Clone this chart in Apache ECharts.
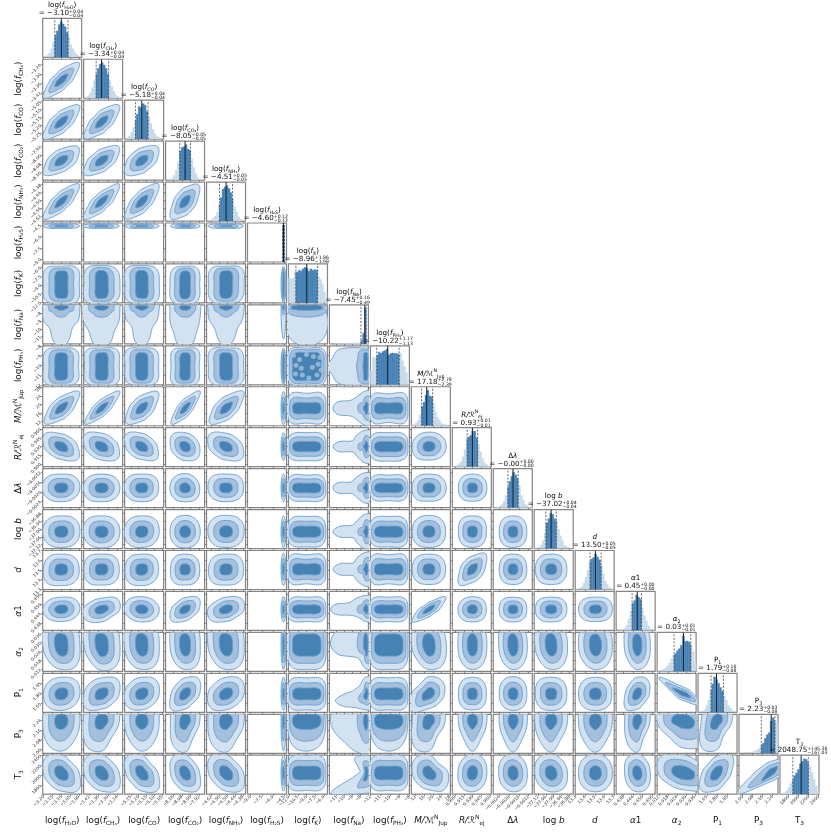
<!DOCTYPE html>
<html>
<head>
<meta charset="utf-8">
<style>
    html, body {margin: 0; padding: 0; background: #fff;}
    #chart {width: 831px; height: 837px;}
</style>
</head>
<body>
<div id="chart"></div>
<script src="https://cdn.jsdelivr.net/npm/echarts@6/dist/echarts.min.js"></script>
<script>
// axis label of each parameter, rich text tokens
const paramLabels = [
    '{n|log(}{i|f}{b|H₂O}{n|)}', '{n|log(}{i|f}{b|CH₄}{n|)}', '{n|log(}{i|f}{b|CO}{n|)}', '{n|log(}{i|f}{b|CO₂}{n|)}',
    '{n|log(}{i|f}{b|NH₃}{n|)}', '{n|log(}{i|f}{b|H₂S}{n|)}', '{n|log(}{i|f}{b|K}{n|)}', '{n|log(}{i|f}{b|Na}{n|)}',
    '{n|log(}{i|f}{b|PH₃}{n|)}', '{i|M/ℳ}{p|N}{b|Jup}', '{i|R/ℛ}{p|N}{b|ej}', '{n|Δ}{i|λ}', '{n|log }{i|b}', '{i|d}',
    '{i|α}{n|1}', '{i|α}{b|2}', '{n|P}{b|1}', '{n|P}{b|3}', '{n|T}{b|3}'
]
// numbers printed above each histogram
const titleValues = ['−3.10', '−3.34', '−5.18', '−8.05', '−4.51', '−4.60', '−8.96', '−7.45', '−10.22', '17.18', '0.93', '−0.00', '−37.02', '13.50', '0.45', '0.03', '1.79', '2.23', '2048.75']
const titleUpper = ['+0.04', '+0.04', '+0.04', '+0.05', '+0.05', '+0.12', '+1.86', '+0.16', '+1.17', '+2.78', '+0.01', '+0.00', '+0.04', '+0.05', '+0.00', '+0.01', '+0.10', '+0.03', '+145.36']
const titleLower = ['−0.04', '−0.04', '−0.04', '−0.05', '−0.05', '−0.12', '−1.98', '−0.49', '−1.13', '−2.39', '−0.01', '−0.00', '−0.04', '−0.05', '−0.00', '−0.01', '−0.08', '−0.08', '−167.03']

// axis ranges
const axisMin = [-3.205, -3.455, -5.29, -8.23, -4.66, -9.4, -12.1, -11.9, -12, 10, 0.895, -0.00265, -37.15, 13.295, 0.4335, 0.0107, 1.52, 1.97, 1625]
const axisMax = [-2.985, -3.205, -5.04, -7.87, -4.36, -4.2, -5.4, -7.0, -8, 28.2, 0.962, -0.00105, -36.85, 13.70, 0.4577, 0.0369, 2.09, 2.285, 2405]
// tick labels
const tickValues = [
    [-3.20, -3.15, -3.10, -3.05, -3.00], [-3.42, -3.36, -3.30, -3.24], [-5.25, -5.20, -5.15, -5.10, -5.05], [-8.16, -8.08, -8.00, -7.92],
    [-4.62, -4.56, -4.50, -4.44, -4.38], [-9.0, -7.5, -6.0, -4.5], [-12.0, -10.5, -9.0, -7.5, -6.0], [-11, -10, -9, -8],
    [-12, -11, -10, -9, -8], [12, 16, 20, 24, 28], [0.900, 0.915, 0.930, 0.945, 0.960], [-0.0024, -0.0020, -0.0016, -0.0012],
    [-37.12, -37.06, -37.00, -36.94, -36.88], [13.3, 13.4, 13.5, 13.6, 13.7], [0.438, 0.444, 0.450, 0.456], [0.012, 0.018, 0.024, 0.030, 0.036],
    [1.65, 1.80, 1.95], [2.00, 2.08, 2.16, 2.24], [1800, 2000, 2200, 2400]
]
const tickDecimals = [2, 2, 2, 2, 2, 1, 1, 0, 0, 0, 3, 4, 2, 1, 3, 3, 2, 2, 0]

// 16% / 50% / 84% lines of each histogram
const quantileLow = [-3.137, -3.375, -5.22, -8.10, -4.56, -4.72, -10.82, -7.94, -11.35, 14.79, 0.9205, -0.00205, -37.06, 13.45, 0.4434, 0.0221, 1.71, 2.15, 1881.7]
const quantileMid = [-3.10, -3.34, -5.18, -8.05, -4.51, -4.60, -8.96, -7.45, -10.22, 17.18, 0.9295, -0.00184, -37.02, 13.505, 0.4466, 0.0284, 1.79, 2.23, 2048.75]
const quantileHigh = [-3.062, -3.295, -5.14, -8.00, -4.46, -4.48, -7.10, -7.29, -9.05, 19.96, 0.9385, -0.00163, -36.98, 13.565, 0.4492, 0.0333, 1.89, 2.26, 2192]

// histogram heights, 20 bins over the axis range, tallest = 100
const histH2O = [1, 2, 6, 12, 24, 42, 62, 74, 92, 100, 94, 86, 70, 58, 36, 24, 14, 8, 3, 1]
const histCH4 = [1, 3, 8, 16, 30, 50, 68, 84, 96, 100, 94, 84, 68, 50, 34, 20, 10, 5, 2, 1]
const histCO = [1, 4, 9, 18, 34, 52, 70, 92, 88, 100, 96, 78, 62, 44, 28, 16, 9, 4, 2, 1]
const histCO2 = [0, 1, 3, 6, 14, 28, 50, 82, 92, 94, 100, 88, 84, 60, 36, 18, 8, 3, 1, 0]
const histNH3 = [0, 1, 3, 8, 14, 24, 46, 66, 90, 96, 100, 92, 80, 62, 40, 26, 12, 6, 2, 1]
const histH2S = [0, 0, 0, 0, 0, 0, 0, 0, 0, 0, 0, 0, 0, 0, 0, 0, 0, 3, 100, 4]
const histK = [70, 68, 70, 88, 86, 92, 90, 96, 100, 98, 90, 96, 92, 94, 92, 74, 66, 52, 30, 8]
const histNa = [0, 0, 0, 0, 1, 1, 1, 1, 1, 1, 2, 2, 2, 2, 3, 3, 10, 30, 100, 12]
const histPH3 = [40, 78, 76, 82, 92, 88, 94, 96, 100, 84, 88, 90, 88, 88, 86, 90, 68, 52, 34, 8]
const histM = [1, 4, 8, 14, 30, 54, 66, 86, 100, 84, 82, 62, 38, 24, 16, 8, 5, 3, 1, 0]
const histR = [0, 1, 3, 8, 14, 28, 48, 78, 84, 88, 100, 100, 82, 62, 42, 24, 12, 6, 2, 0]
const histDl = [0, 1, 2, 4, 8, 18, 34, 58, 74, 88, 100, 92, 82, 62, 34, 20, 10, 6, 2, 1]
const histB = [1, 2, 4, 10, 22, 44, 72, 84, 100, 96, 84, 78, 54, 36, 22, 10, 6, 3, 1, 0]
const histD = [1, 2, 4, 8, 18, 34, 54, 78, 86, 90, 100, 92, 84, 66, 44, 24, 14, 6, 2, 1]
const histA1 = [0, 0, 1, 3, 6, 14, 32, 54, 76, 84, 100, 94, 88, 64, 42, 28, 14, 6, 3, 1]
const histA2 = [1, 2, 4, 6, 10, 16, 24, 36, 46, 50, 58, 64, 74, 100, 84, 86, 82, 74, 56, 30]
const histP1 = [1, 2, 4, 8, 20, 34, 62, 80, 100, 92, 82, 70, 60, 46, 34, 20, 12, 6, 2, 1]
const histP3 = [0, 1, 1, 1, 2, 2, 3, 5, 8, 10, 14, 22, 28, 42, 52, 58, 90, 100, 92, 88]
const histT3 = [1, 2, 5, 10, 18, 30, 40, 52, 60, 70, 86, 92, 100, 98, 90, 78, 62, 42, 24, 8]
const histograms = [histH2O, histCH4, histCO, histCO2, histNH3, histH2S, histK, histNa, histPH3, histM, histR, histDl, histB, histD, histA1, histA2, histP1, histP3, histT3]

// contour centre and contour unit of each parameter, in data units
const contourCentre = [-3.10, -3.34, -5.18, -8.05, -4.51, -4.60, -8.96, -7.34, -10.12, 18.2, 0.9295, -0.00184, -37.02, 13.505, 0.4466, 0.0284, 1.79, 2.225, 2050]
const contourUnit = [0.0375, 0.042, 0.04, 0.05, 0.05, 0.12, 1.17, 1.47, 0.70, 2.9, 0.0089, 0.00021, 0.045, 0.063, 0.0029, 0.0061, 0.09, 0.088, 135]
// how far the dark and the middle contour reach, compared with the outer one
const innerReach = [0.36, 0.36, 0.36, 0.36, 0.36, 0.36, 0.75, 0.07, 0.75, 0.36, 0.36, 0.36, 0.36, 0.36, 0.36, 0.45, 0.36, 0.26, 0.38]
const middleReach = [0.68, 0.68, 0.68, 0.68, 0.68, 0.68, 0.9, 0.24, 0.9, 0.68, 0.68, 0.68, 0.68, 0.68, 0.68, 0.74, 0.68, 0.66, 0.7]

// outer contour: distance from the centre in tenths of a unit,
// counter-clockwise from E in equal steps (8 or 16 of them). One list per row, one entry per column.
const STRIP = [27, 27, 27, 27, 27, 27, 27, 27]
const radiiCH4 = [[17, 38, 17, 12, 17, 38, 17, 12]]
const radiiCO = [[19, 38, 19, 14, 19, 38, 19, 14], [19, 38, 20, 14, 19, 37, 19, 14]]
const radiiCO2 = [[23, 36, 22, 18, 22, 37, 22, 18], [22, 37, 22, 17, 22, 37, 22, 17], [24, 36, 24, 20, 24, 36, 24, 19]]
const radiiNH3 = [[17, 38, 17, 12, 17, 38, 17, 12], [17, 38, 16, 12, 17, 38, 17, 12], [19, 38, 19, 14, 19, 37, 19, 14], [22, 36, 22, 18, 22, 37, 22, 18]]
const radiiH2S = [[28, 30, 26, 30, 28, 30, 26, 30], [27, 30, 26, 30, 29, 30, 26, 30], [28, 30, 26, 30, 27, 30, 26, 30], [28, 29, 26, 30, 27, 29, 26, 30], [27, 30, 26, 30, 28, 30, 26, 30]]
const radiiK = [[27, 34, 27, 33, 27, 33, 27, 34], [28, 32, 28, 33, 27, 34, 27, 33], [28, 33, 28, 34, 27, 33, 27, 34], [27, 33, 27, 32, 28, 34, 28, 33], [28, 34, 27, 33, 27, 33, 27, 32], STRIP]
const radiiNa = [
    [28, 32, 30, 28, 28, 28, 30, 32, 28, 29, 25, 31, 34, 30, 24, 28],
    [28, 32, 30, 28, 28, 28, 30, 32, 29, 30, 28, 33, 34, 33, 28, 29],
    [28, 32, 30, 28, 28, 28, 30, 32, 28, 27, 23, 30, 34, 30, 24, 27],
    [29, 32, 30, 28, 28, 28, 30, 32, 28, 30, 30, 34, 34, 34, 30, 29],
    [28, 32, 30, 28, 28, 28, 30, 32, 28, 28, 25, 30, 34, 30, 25, 27],
    STRIP,
    [28, 34, 36, 34, 30, 34, 36, 34, 28, 34, 36, 34, 34, 34, 36, 34]
]
const radiiPH3 = [[26, 33, 27, 33, 27, 34, 27, 33], [27, 34, 27, 33, 26, 33, 27, 34], [27, 33, 27, 34, 27, 33, 27, 33], [26, 34, 27, 33, 26, 34, 27, 33], [27, 33, 27, 34, 27, 33, 27, 34], STRIP, [28, 35, 27, 35, 28, 35, 27, 35],
    [28, 30, 34, 30, 27, 30, 34, 31, 33, 31, 34, 30, 27, 30, 34, 30]]
const radiiM = [[19, 38, 19, 15, 19, 35, 19, 15], [15, 39, 15, 11, 15, 36, 15, 11], [21, 37, 21, 17, 21, 35, 21, 17], [16, 39, 16, 12, 16, 36, 16, 12], [20, 38, 20, 16, 20, 35, 20, 16], STRIP, [28, 33, 24, 33, 28, 33, 24, 33],
    [28, 32, 32, 30, 28, 20, 18, 26, 28, 26, 18, 20, 28, 30, 32, 32], [28, 33, 23, 32, 28, 33, 23, 33]]
const radiiR = [[25, 22, 25, 35, 26, 22, 25, 35], [26, 23, 26, 35, 26, 23, 26, 34], [25, 22, 26, 35, 26, 23, 25, 34], [27, 25, 27, 33, 27, 25, 27, 32], [26, 23, 26, 35, 27, 23, 26, 34], STRIP, [28, 33, 27, 33, 28, 33, 27, 33],
    [28, 30, 30, 30, 32, 22, 16, 25, 28, 25, 15, 20, 32, 30, 30, 30], [28, 33, 27, 33, 28, 33, 28, 33], [28, 29, 28, 28, 27, 29, 26, 28]]
const radiiDl = [[28, 30, 27, 30, 29, 29, 27, 28], [28, 29, 27, 29, 28, 30, 27, 29], [27, 30, 27, 30, 28, 29, 27, 29], [27, 27, 28, 29, 28, 29, 27, 30], [27, 30, 27, 31, 28, 29, 27, 29], STRIP, [28, 32, 25, 33, 28, 32, 26, 33],
    [28, 30, 30, 30, 30, 22, 17, 26, 28, 26, 16, 20, 30, 30, 30, 30], [28, 32, 25, 32, 28, 32, 25, 32], [28, 29, 27, 29, 27, 30, 26, 29], [28, 29, 27, 29, 27, 29, 26, 29]]
const radiiB = [[28, 30, 27, 29, 28, 29, 27, 29], [28, 29, 27, 30, 28, 29, 28, 29], [28, 30, 27, 29, 28, 30, 27, 28], [28, 29, 28, 29, 28, 29, 28, 29], [28, 30, 28, 30, 28, 29, 27, 29], STRIP, [28, 32, 26, 32, 28, 32, 26, 32],
    [28, 30, 30, 30, 30, 20, 16, 24, 28, 24, 15, 20, 30, 30, 30, 30], [28, 32, 26, 32, 28, 32, 26, 33], [27, 29, 28, 29, 27, 29, 27, 29], [27, 30, 27, 30, 27, 29, 27, 29], [27, 29, 27, 29, 27, 29, 27, 29]]
const radiiD = [[27, 28, 25, 28, 27, 31, 27, 29], [27, 29, 25, 29, 27, 30, 26, 29], [27, 29, 25, 28, 27, 30, 27, 28], [27, 28, 25, 28, 27, 30, 26, 29], [27, 29, 25, 28, 27, 30, 26, 29], STRIP, [28, 33, 24, 33, 28, 33, 24, 33],
    [28, 30, 30, 30, 28, 20, 15, 24, 28, 24, 15, 20, 28, 30, 30, 30], [28, 33, 24, 33, 28, 33, 24, 33], [27, 28, 25, 28, 27, 28, 25, 28], [24, 36, 22, 20, 24, 36, 22, 20], [27, 28, 25, 28, 27, 28, 25, 28], [27, 28, 25, 28, 27, 28, 25, 28]]
const radiiA1 = [[28, 30, 26, 27, 28, 28, 26, 27], [28, 33, 24, 23, 28, 33, 27, 22], [28, 27, 27, 30, 28, 27, 27, 29], [26, 35, 25, 21, 26, 35, 25, 21], [28, 33, 26, 23, 28, 33, 26, 23], STRIP, [28, 33, 26, 33, 28, 33, 26, 33],
    [28, 30, 30, 30, 30, 24, 20, 28, 30, 28, 18, 18, 26, 30, 30, 30], [28, 33, 26, 33, 28, 33, 26, 33], [17, 38, 15, 11, 17, 38, 16, 12], [27, 29, 27, 28, 28, 29, 27, 29], [27, 29, 26, 29, 27, 29, 27, 29], [27, 29, 26, 29, 27, 29, 27, 29], [28, 30, 26, 29, 28, 29, 26, 29]]
const radiiA2 = [[28, 30, 28, 34, 28, 26, 27, 32], [28, 30, 28, 34, 27, 25, 28, 32], [28, 30, 28, 33, 28, 27, 27, 31], [28, 30, 28, 32, 28, 27, 27, 31], [28, 30, 28, 34, 28, 26, 27, 31], STRIP, [28, 33, 27, 33, 28, 33, 27, 33],
    [28, 30, 30, 30, 30, 30, 30, 30, 30, 26, 18, 16, 26, 30, 30, 30], [28, 33, 27, 33, 28, 33, 27, 33], [28, 28, 28, 32, 28, 25, 27, 31], [28, 29, 28, 30, 28, 28, 27, 29], [28, 28, 28, 31, 28, 27, 27, 29], [28, 28, 28, 32, 28, 26, 27, 30], [28, 28, 27, 30, 28, 27, 27, 29], [28, 28, 27, 31, 28, 26, 27, 29]]
const radiiP1 = [[28, 31, 27, 27, 27, 29, 27, 27], [27, 34, 26, 25, 27, 34, 25, 23], [28, 32, 27, 26, 28, 31, 26, 25], [27, 35, 26, 22, 26, 36, 25, 21], [28, 33, 27, 24, 28, 33, 26, 24], STRIP, [28, 33, 26, 33, 28, 33, 26, 33],
    [28, 30, 30, 28, 27, 14, 12, 12, 18, 28, 28, 24, 26, 28, 28, 28], [28, 33, 26, 33, 28, 33, 26, 33], [25, 30, 28, 21, 28, 40, 24, 22], [27, 29, 27, 29, 27, 29, 26, 29], [27, 29, 28, 29, 27, 28, 27, 29], [27, 29, 27, 30, 27, 29, 27, 29], [27, 29, 27, 29, 28, 29, 27, 29], [26, 32, 27, 23, 26, 35, 25, 21], [11, 9, 11, 38, 11, 9, 11, 26]]
const radiiP3 = [[28, 30, 27, 30, 28, 29, 27, 26], [27, 31, 27, 28, 28, 32, 27, 21], [28, 30, 27, 30, 28, 26, 27, 27], [27, 31, 27, 28, 27, 31, 28, 21], [28, 30, 27, 30, 28, 30, 28, 23], STRIP, [28, 33, 27, 33, 28, 30, 27, 29],
    [28, 30, 30, 30, 28, 30, 30, 30, 30, 28, 26, 28, 30, 30, 30, 30], [28, 33, 27, 33, 28, 29, 27, 29], [26, 29, 27, 27, 27, 33, 27, 19], [28, 30, 27, 30, 27, 23, 27, 23], [28, 30, 27, 30, 27, 24, 28, 24], [28, 30, 27, 30, 28, 26, 28, 23], [28, 30, 27, 30, 28, 26, 28, 25], [27, 30, 27, 27, 27, 29, 28, 20], [27, 25, 27, 32, 29, 21, 24, 30], [25, 32, 27, 23, 25, 34, 26, 17]]
const radiiT3 = [[27, 22, 27, 33, 27, 24, 27, 36], [27, 23, 27, 33, 27, 24, 27, 35], [26, 20, 27, 34, 26, 22, 27, 36], [27, 23, 27, 33, 27, 24, 27, 35], [27, 22, 27, 34, 27, 23, 27, 35], STRIP, [28, 33, 26, 33, 28, 33, 26, 33],
    [28, 30, 30, 26, 26, 24, 8, 5, 6, 9, 42, 34, 30, 30, 30, 30], [28, 33, 26, 33, 28, 33, 26, 33], [31, 21, 27, 31, 27, 24, 25, 35], [28, 30, 28, 28, 28, 30, 28, 28], [28, 28, 28, 30, 28, 28, 28, 30], [28, 27, 28, 31, 28, 27, 28, 31], [28, 29, 28, 29, 28, 29, 28, 29], [28, 27, 28, 31, 27, 27, 28, 31], [27, 23, 27, 35, 28, 23, 25, 33], [24, 36, 25, 19, 24, 36, 26, 20], [15, 34, 17, 12, 15, 44, 13, 10]]
const outerRadii = [[], radiiCH4, radiiCO, radiiCO2, radiiNH3, radiiH2S, radiiK, radiiNa, radiiPH3, radiiM, radiiR, radiiDl, radiiB, radiiD, radiiA1, radiiA2, radiiP1, radiiP3, radiiT3]

// paler patches inside the dark part of the K - PH3 panel
const patchK = [-11.2, -10.9, -10.2, -9.7, -9.0, -8.6, -7.8, -7.2, -6.7, -6.5, -9.9, -8.0, -10.8, -7.0]
const patchPH3 = [-9.0, -10.9, -9.4, -11.0, -8.9, -11.3, -9.1, -11.0, -9.2, -10.5, -10.3, -10.2, -10.0, -9.9]

const N = paramLabels.length
const left0 = 42.7, top0 = 18.3, pitchX = 40.96, pitchY = 40.94, size = 39
const levelColors = ['#d3e2f0', '#a4c0dc', '#4682b4']

function tickText(i) {
    return v => v.toFixed(tickDecimals[i]).replace('-', '−')
}

function richSet(k) {
    const base = {fontFamily: 'DejaVu Sans', color: '#111'}
    return {
        n: {...base, fontSize: k, lineHeight: k * 1.4},
        i: {...base, fontSize: k, lineHeight: k * 1.4, fontStyle: 'italic'},
        b: {...base, fontSize: k * 0.66, lineHeight: k * 0.66, verticalAlign: 'bottom'},
        p: {...base, fontSize: k * 0.66, lineHeight: k * 0.66, verticalAlign: 'top'}
    }
}

function contourItem(row, col) {
    const radii = outerRadii[row][col]
    return function (params, api) {
        const level = api.value(2)
        const sx = level === 0 ? 1 : (level === 1 ? middleReach[col] : innerReach[col])
        const sy = level === 0 ? 1 : (level === 1 ? middleReach[row] : innerReach[row])
        const pts = radii.map((r, k) => {
            const a = 2 * Math.PI * k / radii.length
            return api.coord([
                contourCentre[col] + r / 10 * Math.cos(a) * contourUnit[col] * sx,
                contourCentre[row] + r / 10 * Math.sin(a) * contourUnit[row] * sy
            ])
        })
        return {
            type: 'polygon',
            shape: {points: pts, smooth: 0.4},
            style: {fill: levelColors[level], stroke: '#6a9fd0', lineWidth: 0.9}
        }
    }
}

// light bars first, then the part between the 16% and 84% lines on top in a second series
function histItem(i, dark) {
    return function (params, api) {
        const lo = dark ? Math.max(api.value(0), quantileLow[i]) : api.value(0)
        const hi = dark ? Math.min(api.value(1), quantileHigh[i]) : api.value(1)
        if (hi <= lo) return null
        const a = api.coord([lo, api.value(2)]), b = api.coord([hi, 0])
        const color = dark ? levelColors[2] : '#c6d9ea'
        return {
            type: 'rect',
            shape: {x: a[0], y: a[1], width: b[0] - a[0], height: b[1] - a[1]},
            style: {fill: color, stroke: color, lineWidth: 0.3}
        }
    }
}

function quantileItem(params, api) {
    const a = api.coord([api.value(0), 0]), b = api.coord([api.value(0), 110])
    const solid = api.value(1) === 1
    return {
        type: 'line',
        shape: {x1: a[0], y1: a[1], x2: b[0], y2: b[1]},
        style: {stroke: solid ? '#10202e' : '#444', lineWidth: solid ? 1 : 0.8, lineDash: solid ? null : [2, 1.5]}
    }
}

const grid = [], xAxis = [], yAxis = [], series = [], graphic = []

for (let row = 0; row < N; row++) {
    for (let col = 0; col <= row; col++) {
        const idx = grid.length
        const isHist = row === col
        grid.push({
            left: left0 + col * pitchX, top: top0 + row * pitchY, width: size, height: size,
            show: true, borderColor: '#858585', borderWidth: 1.2, backgroundColor: '#fff'
        })
        const bottom = row === N - 1
        xAxis.push({
            type: 'value', gridIndex: idx, min: axisMin[col], max: axisMax[col], position: 'bottom',
            axisLine: {show: false}, splitLine: {show: false},
            axisTick: {show: true, length: 1.8, lineStyle: {color: '#666', width: 0.7}, customValues: tickValues[col]},
            axisLabel: {
                show: bottom, rotate: 45, fontSize: 4.4, margin: 2, color: '#333', fontFamily: 'DejaVu Sans',
                hideOverlap: false, customValues: tickValues[col], formatter: tickText(col)
            },
            name: bottom ? paramLabels[col] : '', nameLocation: 'middle', nameGap: 20,
            nameTextStyle: {rich: richSet(8.8)}
        })
        const first = col === 0 && row > 0
        yAxis.push(isHist ? {
            type: 'value', gridIndex: idx, min: 0, max: 110, show: false
        } : {
            type: 'value', gridIndex: idx, min: axisMin[row], max: axisMax[row], position: 'left',
            axisLine: {show: false}, splitLine: {show: false},
            axisTick: {show: true, length: 1.8, lineStyle: {color: '#666', width: 0.7}, customValues: tickValues[row]},
            axisLabel: {
                show: first, rotate: 45, fontSize: 4.4, margin: 2, color: '#333', fontFamily: 'DejaVu Sans',
                hideOverlap: false, customValues: tickValues[row], formatter: tickText(row)
            },
            name: first ? paramLabels[row] : '', nameLocation: 'middle', nameGap: 18,
            nameTextStyle: {rich: richSet(8.8)}
        })
        if (isHist) {
            const w = (axisMax[col] - axisMin[col]) / histograms[col].length
            const bins = histograms[col].map((h, k) => [axisMin[col] + k * w, axisMin[col] + (k + 1) * w, h])
            series.push({
                type: 'custom', xAxisIndex: idx, yAxisIndex: idx, clip: true, silent: true,
                renderItem: histItem(col, false), data: bins
            })
            series.push({
                type: 'custom', xAxisIndex: idx, yAxisIndex: idx, clip: true, silent: true,
                renderItem: histItem(col, true), data: bins
            })
            series.push({
                type: 'custom', xAxisIndex: idx, yAxisIndex: idx, clip: true, silent: true, z: 3,
                renderItem: quantileItem,
                data: [[quantileLow[col], 0], [quantileMid[col], 1], [quantileHigh[col], 0]]
            })
        } else {
            series.push({
                type: 'custom', xAxisIndex: idx, yAxisIndex: idx, clip: true, silent: true,
                renderItem: contourItem(row, col),
                data: [0, 1, 2].map(level => [contourCentre[col], contourCentre[row], level])
            })
            if (row === 8 && col === 6) {
                series.push({
                    type: 'scatter', xAxisIndex: idx, yAxisIndex: idx, silent: true, z: 3,
                    symbolSize: 5, itemStyle: {color: levelColors[1]},
                    data: patchK.map((v, k) => [v, patchPH3[k]])
                })
            }
        }
    }
}

// titles above the diagonal
for (let i = 0; i < N; i++) {
    const cx = left0 + i * pitchX + size / 2, top = top0 + i * pitchY
    const main = '= ' + titleValues[i]
    const wMain = main.length * 4.1, wScript = Math.max(titleUpper[i].length, titleLower[i].length) * 3
    const split = cx - (wMain + wScript) / 2 + wMain
    graphic.push({
        type: 'text', x: cx, y: top - 13, z: 10, silent: true,
        style: {text: paramLabels[i], rich: richSet(7.2), align: 'center', verticalAlign: 'middle'}
    })
    graphic.push({
        type: 'text', x: split, y: top - 5, z: 10, silent: true,
        style: {text: main, font: '7.2px DejaVu Sans', fill: '#111', align: 'right', verticalAlign: 'middle'}
    })
    graphic.push({
        type: 'text', x: split, y: top - 6.6, z: 10, silent: true,
        style: {text: titleUpper[i], font: '4.6px DejaVu Sans', fill: '#111', align: 'left', verticalAlign: 'middle'}
    })
    graphic.push({
        type: 'text', x: split, y: top - 2.4, z: 10, silent: true,
        style: {text: titleLower[i], font: '4.6px DejaVu Sans', fill: '#111', align: 'left', verticalAlign: 'middle'}
    })
}

const chart = echarts.init(document.getElementById('chart'))
chart.setOption({animation: false, backgroundColor: '#fff', grid, xAxis, yAxis, series, graphic})
</script>
</body>
</html>
